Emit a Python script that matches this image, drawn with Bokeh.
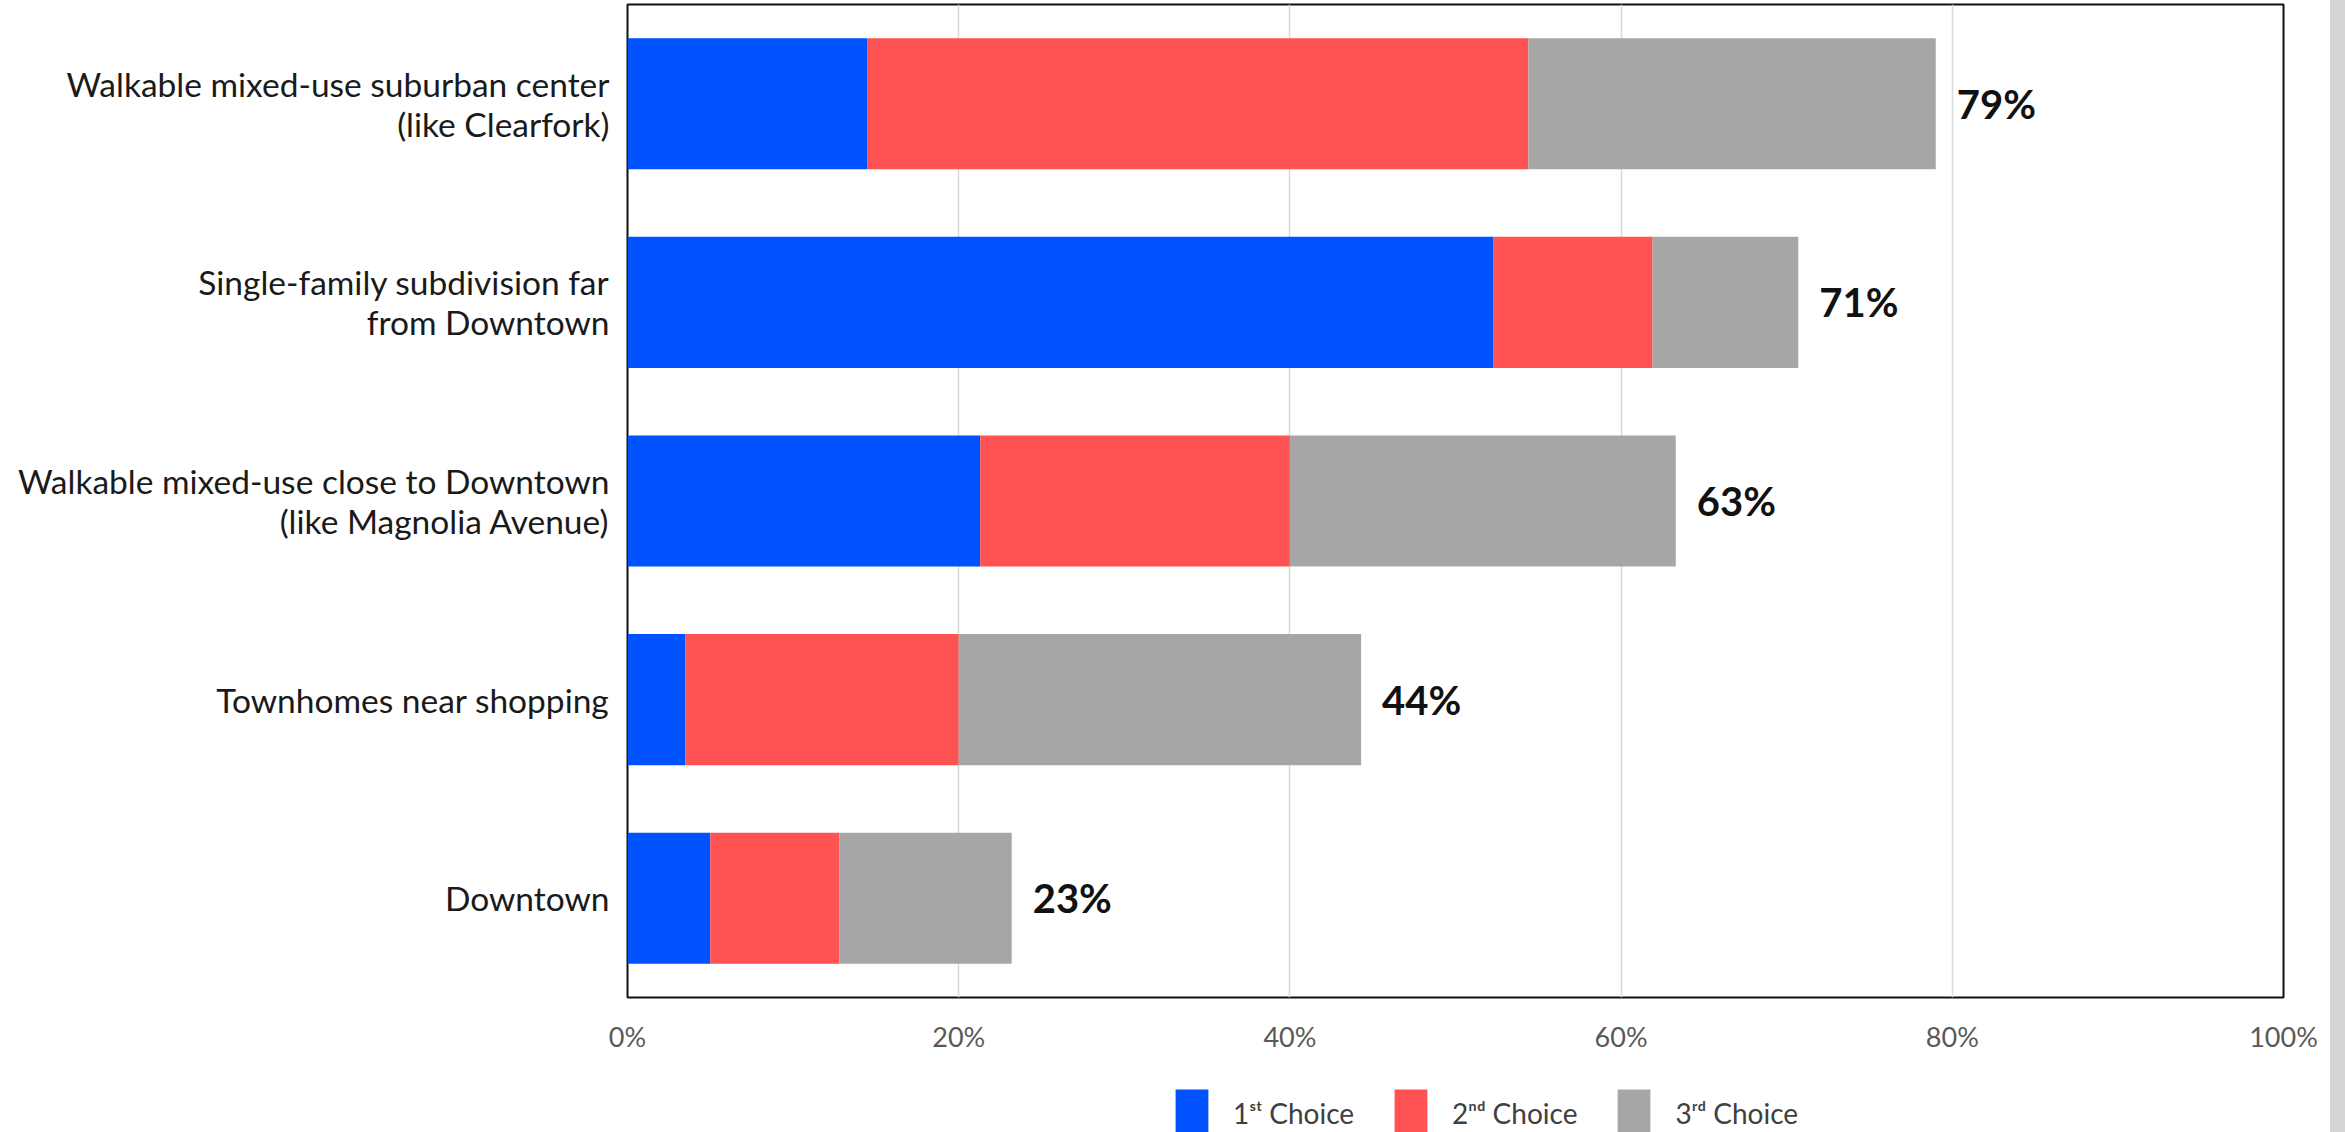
from bokeh.plotting import figure
from bokeh.models import (ColumnDataSource, FactorRange, FixedTicker, PrintfTickFormatter,
                          Legend, LegendItem, Div, Range1d)
from bokeh.layouts import row, column
from bokeh.core.properties import value
from bokeh.embed import file_html
from bokeh.resources import INLINE

# ---- data ----
categories = [
    "Walkable mixed-use suburban center\n(like Clearfork)",
    "Single-family subdivision far\nfrom Downtown",
    "Walkable mixed-use close to Downtown\n(like Magnolia Avenue)",
    "Townhomes near shopping",
    "Downtown",
]
first_choice = [14.5, 52.3, 21.3, 3.5, 5.0]
second_choice = [39.9, 9.6, 18.7, 16.5, 7.8]
third_choice = [24.6, 8.8, 23.3, 24.3, 10.4]
series_names = ["1ˢᵗ Choice", "2ⁿᵈ Choice", "3ʳᵈ Choice"]
x_ticks = [0, 20, 40, 60, 80, 100]

colors = ["#0052FF", "#FF5252", "#A6A6A6"]
FONT = "Lato"

totals = [a + b + c for a, b, c in zip(first_choice, second_choice, third_choice)]
total_labels = ["%d%%" % round(t) for t in totals]

source = ColumnDataSource(dict(
    cat=categories,
    c1=first_choice,
    c2=second_choice,
    c3=third_choice,
    total=totals,
    total_label=total_labels,
))

p = figure(
    width=2330, height=1075,
    y_range=FactorRange(factors=list(reversed(categories))),
    x_range=(0, 100),
    output_backend="svg", toolbar_location=None,
    min_border_left=627, min_border_right=47, min_border_top=4, min_border_bottom=78,
    background_fill_color="white", border_fill_color="white",
)
p.margin = 0

renderers = p.hbar_stack(["c1", "c2", "c3"], y="cat", height=0.66, color=colors,
                         line_color=None, source=source)

p.text(x="total", y="cat", text="total_label", source=source, x_offset=21,
       text_baseline="middle", text_align="left", text_font=value(FONT),
       text_font_style="bold", text_font_size="40px", text_color="#111111")

# axes
p.xaxis.ticker = FixedTicker(ticks=x_ticks)
p.xaxis.formatter = PrintfTickFormatter(format="%d%%")
p.xaxis.axis_line_color = None
p.xaxis.major_tick_line_color = None
p.xaxis.minor_tick_line_color = None
p.xaxis.major_label_standoff = 16
p.xaxis.major_label_text_font = FONT
p.xaxis.major_label_text_font_size = "27px"
p.xaxis.major_label_text_color = "#595959"

p.yaxis.axis_line_color = None
p.yaxis.major_tick_line_color = None
p.yaxis.minor_tick_line_color = None
p.yaxis.major_label_standoff = 12
p.yaxis.major_label_text_font = FONT
p.yaxis.major_label_text_font_size = "33.5px"
p.yaxis.major_label_text_line_height = 1.0
p.yaxis.major_label_text_color = "#1a1a1a"

p.xgrid.ticker = FixedTicker(ticks=x_ticks)
p.xgrid.grid_line_color = "#d9d9d9"
p.xgrid.grid_line_width = 1.5
p.ygrid.grid_line_color = None

p.outline_line_color = "#111111"
p.outline_line_width = 2

# ---- legend strip: a small figure whose (zero-height) stacked bars are not shown,
# so only its legend appears ----
pl = figure(width=2330, height=57, output_backend="svg", toolbar_location=None,
            x_range=Range1d(-2, -1), y_range=FactorRange(factors=categories),
            x_axis_location=None, y_axis_location=None,
            min_border=0, border_fill_color="white", background_fill_color="white")
pl.margin = 0
pl.grid.grid_line_color = None
pl.outline_line_color = None
swatches = pl.hbar_stack(["c1", "c2", "c3"], y="cat", height=0, color=colors,
                         line_color=None, source=source)

legend = Legend(
    items=[LegendItem(label=n, renderers=[r]) for n, r in zip(series_names, swatches)],
    orientation="horizontal", location=(544, -11),
    label_text_font=FONT, label_text_font_size="28px", label_text_color="#404040",
    glyph_width=41, glyph_height=60, label_standoff=21, spacing=36,
    padding=0, margin=0, border_line_color=None, background_fill_alpha=0,
)
pl.add_layout(legend, "center")

strip = Div(text="", width=15, height=1132,
            styles={"background-color": "#d4d4d4"}, margin=0)

layout = row(column(p, pl, spacing=0), strip, spacing=0)
open("out.html", "w").write(file_html(layout, INLINE))
